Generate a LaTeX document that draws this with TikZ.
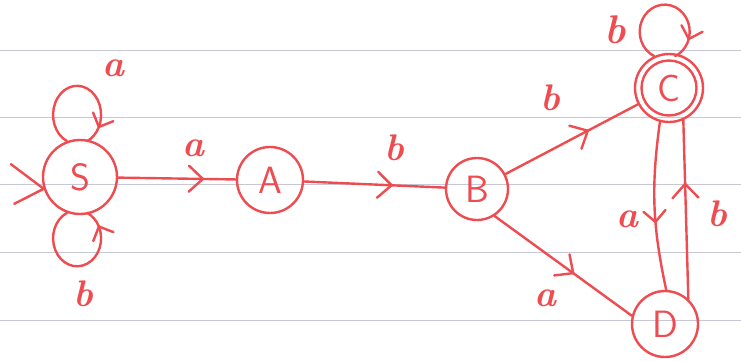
\documentclass[tikz,border=0pt]{standalone}
\usetikzlibrary{arrows.meta,decorations.markings}
\definecolor{ink}{RGB}{238,76,80}
\definecolor{ruling}{RGB}{198,200,214}
\begin{document}
\begin{tikzpicture}[x=1pt,y=1pt,
  fsmstate/.style={circle, draw=ink, line width=2.4pt, minimum size=#1, inner sep=0pt,
    text=ink, font=\fontsize{38}{38}\selectfont\sffamily},
  trans/.style={draw=ink, line width=2.4pt, line cap=round, line join=round},
  midarrow/.style={postaction={decorate}, decoration={markings,
    mark=at position #1 with {\arrow[ink, line width=2.4pt]{Straight Barb[round, length=11pt, width=22pt]}}}},
  bigarrow/.style={postaction={decorate}, decoration={markings,
    mark=at position #1 with {\arrow[ink, line width=2.4pt]{Straight Barb[round, length=14pt, width=26pt]}}}},
  sym/.style={text=ink, inner sep=0pt, font=\fontsize{37}{37}\selectfont\bfseries\itshape},
  paperline/.style={draw=ruling, line width=0.8pt}]

% page and ruled lines
\fill[white] (0,0) rectangle (741,-360);
\useasboundingbox (0,0) rectangle (741,-360);
\foreach \yy in {50,117,184,252,320}
  \draw[paperline] (0,-\yy) -- (741,-\yy);

% states
\node[fsmstate=74pt] (S) at (80,-177) {S};
\node[fsmstate=66pt] (A) at (270,-180) {A};
\node[fsmstate=62pt] (B) at (477,-189) {B};
\node[fsmstate=68pt] (C) at (669,-88) {C};
\draw[ink, line width=2.4pt] (C.center) circle[radius=27.5pt];
\node[fsmstate=66pt] (D) at (665,-324) {D};

% start marker on S
\draw[trans] ([shift={(143:41)}]S.198) -- (S.198) -- ([shift={(207:33)}]S.198);

% self-loops
\draw[trans, midarrow=0.88] (S.110) arc[start angle=-115, end angle=-425, x radius=24pt, y radius=29pt];
\draw[trans, midarrow=0.88] (S.250) arc[start angle=115, end angle=425, x radius=24pt, y radius=28pt];
\draw[trans, midarrow=0.85] (C.115) arc[start angle=-115, end angle=-425, x radius=25pt, y radius=27pt];

% transitions
\draw[trans, bigarrow=0.73] (S) -- (A);
\draw[trans, bigarrow=0.63] (A) -- (B);
\draw[trans, bigarrow=0.63] (B) -- (C);
\draw[trans, bigarrow=0.58] (B.-57) -- (D.166);
\draw[trans, midarrow=0.6] (C.255) to[bend right=10] (D.88);
\draw[trans, bigarrow=0.65] (D.47) -- (C.294);

% transition symbols
\node[sym] (lSa) at (113,-68) {a};
\node[sym] (lSb) at (83,-294) {b};
\node[sym] (lSA) at (193,-148) {a};
\node[sym] (lAB) at (394,-148) {b};
\node[sym] (lBC) at (550,-98) {b};
\node[sym] (lBD) at (545,-298) {a};
\node[sym] (lCD) at (627,-219) {a};
\node[sym] (lDC) at (717,-214) {b};
\node[sym, font=\fontsize{40}{40}\selectfont\bfseries\itshape] (lCC) at (615,-30) {b};
\end{tikzpicture}
\end{document}
